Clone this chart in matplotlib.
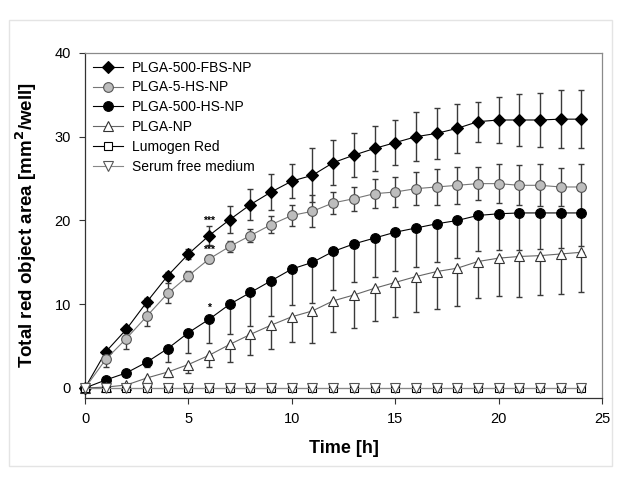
import matplotlib.pyplot as plt
from matplotlib.patches import Rectangle

plt.rcParams['font.family'] = ['Liberation Sans', 'DejaVu Sans']

# time points [h]
time = [0, 1, 2, 3, 4, 5, 6, 7, 8, 9, 10, 11, 12, 13, 14, 15, 16, 17, 18, 19, 20, 21, 22, 23, 24]

# mean total red object area [mm^2/well] and SD
fbs500 = [0, 4.3, 7.0, 10.3, 13.4, 16.0, 18.2, 20.1, 21.9, 23.4, 24.7, 25.4, 26.9, 27.8, 28.6,
          29.3, 30.0, 30.4, 31.0, 31.8, 32.0, 32.0, 32.0, 32.1, 32.1]
fbs500_sd = [0, 0.3, 0.4, 0.5, 0.5, 0.6, 1.1, 1.6, 1.8, 2.1, 2.0, 3.2, 2.7, 2.6, 2.7,
             2.7, 2.9, 3.0, 2.9, 2.4, 2.7, 3.1, 3.2, 3.5, 3.5]

hs5 = [0, 3.4, 5.9, 8.6, 11.3, 13.4, 15.4, 16.9, 18.2, 19.5, 20.6, 21.1, 22.1, 22.6, 23.2,
       23.4, 23.8, 24.0, 24.2, 24.4, 24.4, 24.2, 24.2, 24.0, 24.0]
hs5_sd = [0, 0.9, 1.3, 1.2, 1.2, 0.6, 0.5, 0.7, 0.8, 1.0, 1.3, 1.9, 1.35, 1.45, 1.7,
          1.8, 2.0, 2.2, 2.2, 2.0, 2.3, 2.4, 2.5, 2.3, 2.8]

hs500 = [0, 0.95, 1.8, 3.1, 4.7, 6.6, 8.2, 10.0, 11.4, 12.8, 14.2, 15.0, 16.3, 17.2, 17.9,
         18.6, 19.1, 19.6, 20.0, 20.6, 20.8, 20.9, 20.9, 20.9, 20.9]
hs500_sd = [0, 0.2, 0.4, 0.6, 1.6, 2.4, 2.8, 3.6, 4.0, 4.2, 4.3, 4.9, 4.6, 4.5, 4.6,
            4.6, 4.6, 4.5, 4.5, 4.3, 4.3, 4.4, 4.3, 4.2, 4.0]

plga = [0, 0.1, 0.35, 1.2, 1.9, 2.8, 3.9, 5.2, 6.4, 7.5, 8.5, 9.2, 10.4, 11.1, 11.9,
        12.6, 13.3, 13.9, 14.3, 15.1, 15.5, 15.7, 15.8, 16.0, 16.2]
plga_sd = [0, 0.1, 0.2, 0.4, 0.6, 1.0, 1.4, 2.1, 2.5, 2.8, 3.0, 3.8, 3.7, 3.9, 3.9,
           4.1, 4.2, 4.5, 4.5, 4.3, 4.5, 4.8, 4.7, 4.8, 4.8]

lumogen = [0, 0, 0, 0, 0, 0, 0, 0, 0, 0, 0, 0, 0, 0, 0, 0, 0, 0, 0, 0, 0, 0, 0, 0, 0]
serum = [0, 0, 0, 0, 0, 0, 0, 0, 0, 0, 0, 0, 0, 0, 0, 0, 0, 0, 0, 0, 0, 0, 0, 0, 0]

# significance marks at 6 h
stars = [(6, 20.0, '***'), (6, 16.5, '***'), (6, 9.6, '*')]

fig = plt.figure(figsize=(6.2, 4.84), dpi=100)
ax = fig.add_axes([85 / 620, 1 - 398 / 484, 517 / 620, 345 / 484])

# (label, y, sd, marker, size, face, edge, line colour, both-sided errors)
series = [
    ('PLGA-500-FBS-NP', fbs500, fbs500_sd, 'D', 6.0, 'black', 'black', 'black', True),
    ('PLGA-5-HS-NP', hs5, hs5_sd, 'o', 7.0, '#bdbdbd', '#555555', '#777777', True),
    ('PLGA-500-HS-NP', hs500, hs500_sd, 'o', 7.0, 'black', 'black', 'black', False),
    ('PLGA-NP', plga, plga_sd, '^', 7.0, 'white', '#333333', '#666666', False),
    ('Lumogen Red', lumogen, None, 's', 6.0, 'white', 'black', 'black', False),
    ('Serum free medium', serum, None, 'v', 7.0, 'white', '#555555', '#888888', False),
]

handles = []
for label, y, sd, mk, ms, fc, ec, lc, both in series:
    if sd is not None:
        yerr = [sd, sd] if both else [sd, [0] * len(sd)]
        ax.errorbar(time, y, yerr=yerr, fmt='none', ecolor='#3a3a3a', elinewidth=1.0,
                    capsize=2.2, capthick=1.0, zorder=2, clip_on=False)
    h, = ax.plot(time, y, color=lc, lw=0.8, marker=mk, ms=ms, mfc=fc, mec=ec, mew=0.8,
                 label=label, zorder=3, clip_on=False)
    handles.append(h)

for x, y, s in stars:
    ax.text(x, y, s, ha='center', va='center', fontsize=7.5, fontweight='bold')

ax.set_xlim(0, 25)
ax.set_ylim(-1.2, 40)
ax.set_xticks([0, 5, 10, 15, 20, 25])
ax.set_yticks([0, 10, 20, 30, 40])
ax.tick_params(direction='out', length=4, width=0.8, labelsize=10.5, color='#333333', pad=6)
for side in ['left', 'bottom']:
    ax.spines[side].set_color('#333333')
    ax.spines[side].set_linewidth(0.9)
for side in ['top', 'right']:
    ax.spines[side].set_color('#8a8a8a')
    ax.spines[side].set_linewidth(0.9)

ax.set_xlabel('Time [h]', fontsize=13, fontweight='bold', labelpad=10)
ax.set_ylabel('Total red object area [mm$^\\mathbf{2}$/well]', fontsize=13.5, fontweight='bold',
              labelpad=11)

ax.legend(handles=handles, loc='upper left', frameon=False, fontsize=10, handlelength=2.2,
          handletextpad=0.6, labelspacing=0.42, borderaxespad=0.15, bbox_to_anchor=(0.0, 1.0))

# light outer frame
fig.patches.append(Rectangle((9 / 620, 18 / 484), 603 / 620, 446 / 484, transform=fig.transFigure,
                             fill=False, edgecolor='#e4e4e4', lw=1.0))

fig.savefig('out.png', dpi=100)
